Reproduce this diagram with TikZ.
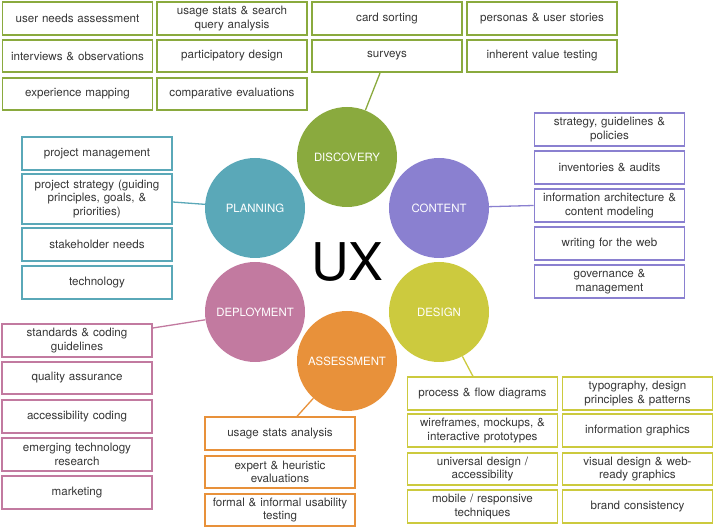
\documentclass[tikz,border=0pt]{standalone}
\usepackage{fontspec}
\setmainfont{TeX Gyre Heros}
\definecolor{cdisc}{RGB}{138,170,62}
\definecolor{ccont}{RGB}{138,128,208}
\definecolor{cdes}{RGB}{204,202,62}
\definecolor{cass}{RGB}{232,145,58}
\definecolor{cdep}{RGB}{194,122,160}
\definecolor{cplan}{RGB}{90,168,184}
\definecolor{txt}{RGB}{55,55,55}
\begin{document}
\begin{tikzpicture}[x=1pt,y=-1pt,
  box/.style={draw=#1, line width=1.7pt, fill=white, minimum width=150pt, minimum height=32.5pt,
    inner sep=0pt, align=center, text width=148pt, text=txt,
    font=\fontsize{11.6}{13.4}\selectfont},
  bubble/.style={circle, fill=#1, minimum size=100pt, inner sep=0pt, text=white,
    font=\fontsize{11.4}{12}\selectfont},
  link/.style={draw=#1, line width=1.3pt}]
\useasboundingbox (0,0) rectangle (715,529);
% circles
\node[bubble=cdisc] (disc) at (347,157) {DISCOVERY};
\node[bubble=ccont] (cont) at (439,208) {CONTENT};
\node[bubble=cdes] (des) at (439,312) {DESIGN};
\node[bubble=cass] (ass) at (347,361) {ASSESSMENT};
\node[bubble=cdep] (dep) at (255,312) {DEPLOYMENT};
\node[bubble=cplan] (plan) at (255,208) {PLANNING};
\node[font=\fontsize{52}{52}\selectfont] (ux) at (347.5,262) {UX};
% discovery boxes
\node[box=cdisc] (d1) at (77.5,18.5) {user needs assessment};
\node[box=cdisc] (d2) at (232,18.5) {usage stats \& search\\query analysis};
\node[box=cdisc] (d3) at (387,18.5) {card sorting};
\node[box=cdisc] (d4) at (542,18.5) {personas \& user stories};
\node[box=cdisc] (d5) at (77.5,56) {interviews \& observations};
\node[box=cdisc] (d6) at (232,56) {participatory design};
\node[box=cdisc] (d7) at (387,56) {surveys};
\node[box=cdisc] (d8) at (542,56) {inherent value testing};
\node[box=cdisc] (d9) at (77.5,94) {experience mapping};
\node[box=cdisc] (d10) at (232,94) {comparative evaluations};
% content boxes
\node[box=ccont] (c1) at (609.5,129.5) {strategy, guidelines \&\\policies};
\node[box=ccont] (c2) at (609.5,167.5) {inventories \& audits};
\node[box=ccont] (c3) at (609.5,205.5) {information architecture \&\\content modeling};
\node[box=ccont] (c4) at (609.5,243.5) {writing for the web};
\node[box=ccont] (c5) at (609.5,281.5) {governance \&\\management};
% planning boxes
\node[box=cplan] (p1) at (97,153.5) {project management};
\node[box=cplan, minimum height=50pt] (p2) at (97,199) {project strategy (guiding\\principles, goals, \&\\priorities)};
\node[box=cplan] (p3) at (97,244.5) {stakeholder needs};
\node[box=cplan] (p4) at (97,282.5) {technology};
% deployment boxes
\node[box=cdep] (e1) at (77,340.5) {standards \& coding\\guidelines};
\node[box=cdep] (e2) at (77,378) {quality assurance};
\node[box=cdep] (e3) at (77,416.5) {accessibility coding};
\node[box=cdep] (e4) at (77,454.5) {emerging technology\\research};
\node[box=cdep] (e5) at (77,492.5) {marketing};
% assessment boxes
\node[box=cass] (a1) at (280,433.5) {usage stats analysis};
\node[box=cass] (a2) at (280,472) {expert \& heuristic\\evaluations};
\node[box=cass] (a3) at (280,510) {formal \& informal usability\\testing};
% design boxes
\node[box=cdes] (g1) at (482.5,393.5) {process \& flow diagrams};
\node[box=cdes] (g2) at (482.5,430.5) {wireframes, mockups, \&\\interactive prototypes};
\node[box=cdes] (g3) at (482.5,469) {universal design /\\accessibility};
\node[box=cdes] (g4) at (482.5,506.5) {mobile / responsive\\techniques};
\node[box=cdes] (g5) at (637.5,393.5) {typography, design\\principles \& patterns};
\node[box=cdes] (g6) at (637.5,430.5) {information graphics};
\node[box=cdes] (g7) at (637.5,469) {visual design \& web-\\ready graphics};
\node[box=cdes] (g8) at (637.5,506.5) {brand consistency};
% connectors
\draw[link=cdisc] ([xshift=-7pt]d7.south) -- (disc);
\draw[link=ccont] (cont) -- (c3.west);
\draw[link=cplan] ([yshift=-3pt]p2.east) -- (plan);
\draw[link=cdep] ([yshift=12.5pt]e1.east) -- (dep);
\draw[link=cass] ([xshift=17pt]a1.north) -- (ass);
\draw[link=cdes] ([xshift=-9.5pt]g1.north) -- (des);
\end{tikzpicture}
\end{document}
